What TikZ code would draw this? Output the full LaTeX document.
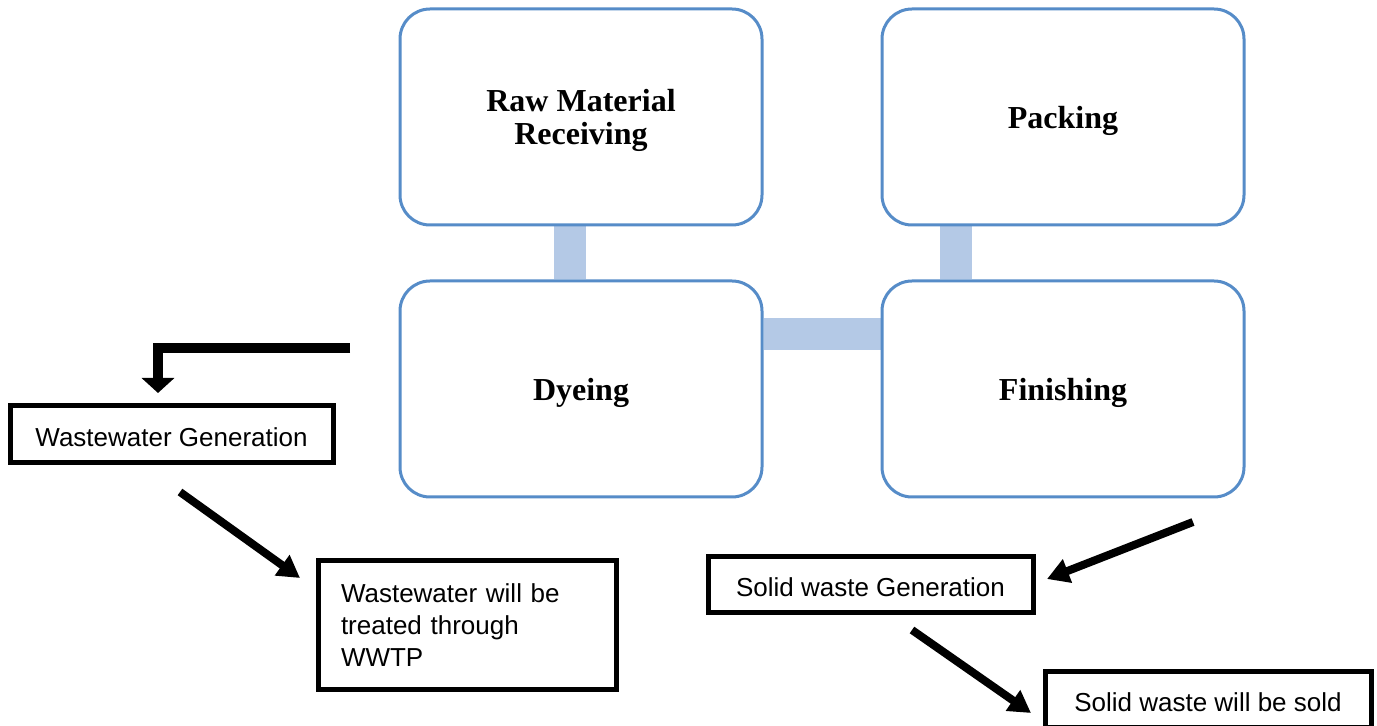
\documentclass[tikz,border=0pt]{standalone}
\usepackage{fontspec}
\setmainfont{Liberation Serif}
\setsansfont{Liberation Sans}
\usetikzlibrary{arrows.meta,calc,backgrounds}
\definecolor{boxblue}{RGB}{86,140,200}
\definecolor{barblue}{RGB}{180,201,230}
\begin{document}
\begin{tikzpicture}[x=0.5pt,y=-0.5pt,
	procbox/.style={draw=boxblue,line width=1.5pt,rounded corners=15pt,fill=white,
		minimum width=181pt,minimum height=108pt,align=center,text depth=0pt,
		font=\bfseries\fontsize{16}{16.5}\selectfont},
	wastebox/.style={draw=black,line width=2.5pt,fill=white,inner xsep=11.5pt,
		font=\sffamily\fontsize{13}{16}\selectfont},
	oneline/.style={text height=12pt,text depth=0pt},
	linkbar/.style={barblue,line width=16pt},
	bigarrow/.style={line width=4pt,-{Triangle[width=12pt,length=11pt]}},
	elbowarrow/.style={line width=5pt,line join=miter,-{Triangle[width=16pt,length=7.5pt]}}]
	\useasboundingbox (0,0) rectangle (1377,726);
	\node[procbox] (raw) at (581,117) {Raw Material\\Receiving};
	\node[procbox] (pack) at (1063,117) {Packing};
	\node[procbox] (dye) at (581,389) {Dyeing};
	\node[procbox] (fin) at (1063,389) {Finishing};
	\begin{scope}[on background layer]
		\draw[linkbar] ($(raw.south)+(-11,0)$) -- ($(dye.north)+(-11,0)$);
		\draw[linkbar] ($(pack.south)+(-107,0)$) -- ($(fin.north)+(-107,0)$);
		\draw[linkbar] ($(dye.east)+(0,-55)$) -- ($(fin.west)+(0,-55)$);
	\end{scope}
	\node[wastebox,oneline,minimum width=161.5pt,minimum height=28.5pt] (wwg) at (171.5,434.5) {Wastewater Generation};
	\node[wastebox,minimum height=64.5pt,text width=126pt,align=left] (wwtp) at (467,625.5) {Wastewater will be\\treated through\\WWTP};
	\node[wastebox,oneline,minimum width=162.5pt,minimum height=28pt] (swg) at (870.5,585) {Solid waste Generation};
	\node[wastebox,oneline,minimum width=163pt,minimum height=28pt] (sws) at (1208,700) {Solid waste will be sold};
	\coordinate (ww0) at (350,348);
	\coordinate (ww1) at (158,393);
	\draw[elbowarrow] (ww0) -| (ww1);
	\coordinate (a1) at (180,492);
	\coordinate (a2) at (300,578);
	\draw[bigarrow] (a1) -- (a2);
	\coordinate (b1) at (1193,522);
	\coordinate (b2) at (1047,579);
	\draw[bigarrow] (b1) -- (b2);
	\coordinate (c1) at (912,630);
	\coordinate (c2) at (1031,713);
	\draw[bigarrow] (c1) -- (c2);
\end{tikzpicture}
\end{document}
